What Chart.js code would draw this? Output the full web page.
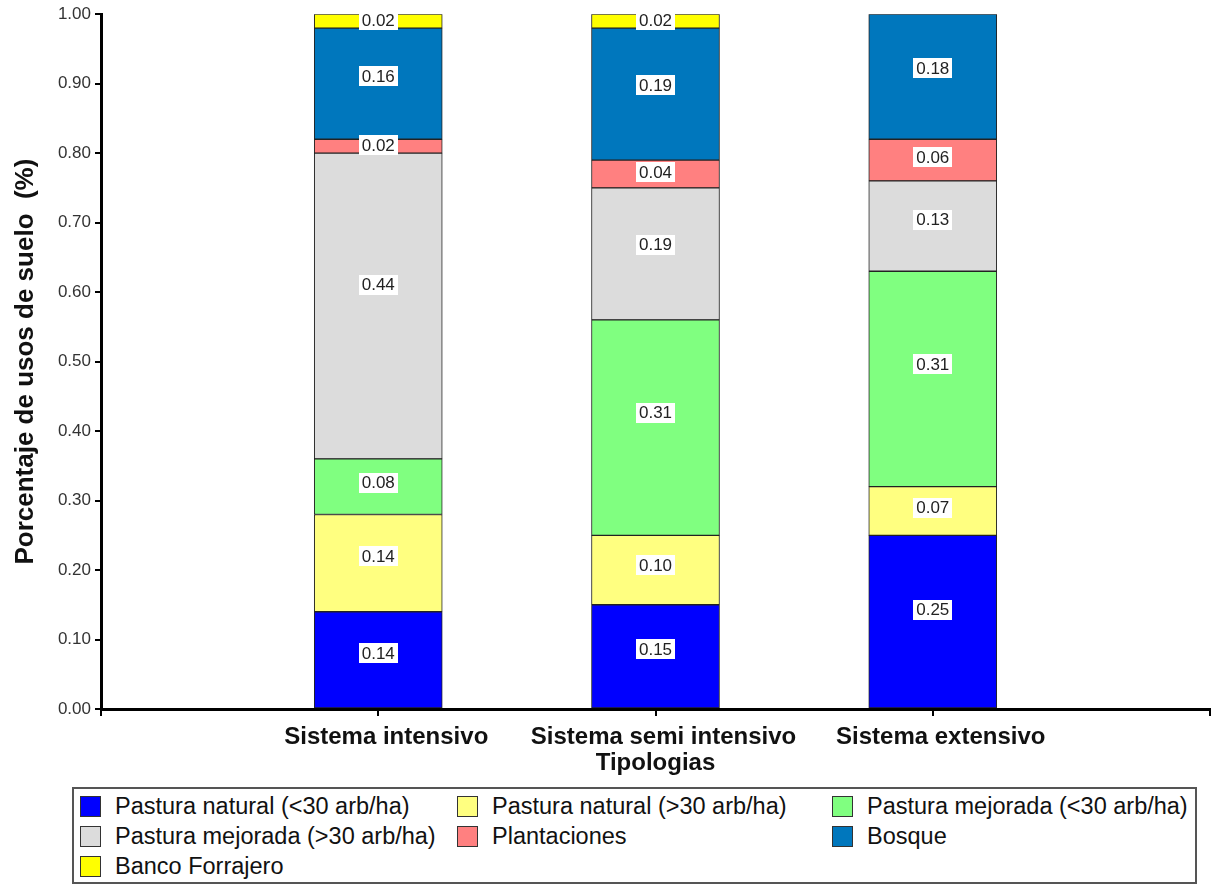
<!DOCTYPE html>
<html>
<head>
<meta charset="utf-8">
<script src="https://cdn.jsdelivr.net/npm/chart.js@4/dist/chart.umd.min.js"></script>
<style>
  body { margin:0; background:#fff; width:1217px; height:884px; overflow:hidden; position:relative;
         font-family: Arial, "Liberation Sans", sans-serif; }
  #wrap { position:absolute; left:0; top:0; width:1217px; height:780px; }
  #legend { position:absolute; left:72px; top:787px; width:1125px; height:97px;
            border:2px solid #555; box-sizing:border-box; }
  .item { position:absolute; display:flex; align-items:center; height:30px;
          font-size:23.5px; color:#111; white-space:nowrap; }
  .sw { width:21px; height:21px; border:1.5px solid #333; margin-right:14px; box-sizing:border-box; }
</style>
</head>
<body>
<div id="wrap"><canvas id="c" width="1217" height="780"></canvas></div>
<div id="legend"></div>
<script>
// Land-use categories per production system
const categories = ['Sistema intensivo', 'Sistema semi intensivo', 'Sistema extensivo'];

const seriesNames = [
  'Pastura natural (<30 arb/ha)',
  'Pastura natural (>30 arb/ha)',
  'Pastura mejorada (<30 arb/ha)',
  'Pastura mejorada (>30 arb/ha)',
  'Plantaciones',
  'Bosque',
  'Banco Forrajero'
];

// Share of land use (stacked bottom to top)
const pasturaNaturalMenos30  = [0.14, 0.15, 0.25];
const pasturaNaturalMas30    = [0.14, 0.10, 0.07];
const pasturaMejoradaMenos30 = [0.08, 0.31, 0.31];
const pasturaMejoradaMas30   = [0.44, 0.19, 0.13];
const plantaciones           = [0.02, 0.04, 0.06];
const bosque                 = [0.16, 0.19, 0.18];
const bancoForrajero         = [0.02, 0.02, 0.00];

const seriesColors = ['#0000FF', '#FFFF80', '#80FF80', '#DCDCDC', '#FF8080', '#0077BD', '#FFFF00'];
const seriesValues = [pasturaNaturalMenos30, pasturaNaturalMas30, pasturaMejoradaMenos30,
                      pasturaMejoradaMas30, plantaciones, bosque, bancoForrajero];

// Empty slots at both ends give the axis its margins on either side of the bars
const xLabels = ['', ...categories, ''];
const pad = arr => [null, ...arr, null];

const datasets = seriesValues.map((vals, i) => ({
  label: seriesNames[i],
  data: pad(vals),
  backgroundColor: seriesColors[i],
  borderColor: '#222',
  borderWidth: 1,
  borderSkipped: false,
  barThickness: 128
}));

// White boxed value labels inside each segment
const valueLabels = {
  id: 'valueLabels',
  afterDatasetsDraw(chart) {
    const ctx = chart.ctx;
    ctx.save();
    ctx.font = '17px Arial, "Liberation Sans", sans-serif';
    ctx.textAlign = 'center';
    ctx.textBaseline = 'middle';
    chart.data.datasets.forEach((ds, i) => {
      const meta = chart.getDatasetMeta(i);
      meta.data.forEach((el, j) => {
        const v = ds.data[j];
        if (!v) return;
        const txt = v.toFixed(2);
        const y = el.base + (el.y - el.base) * 0.57;
        const w = ctx.measureText(txt).width + 6;
        const h = 20;
        ctx.fillStyle = '#fff';
        ctx.fillRect(Math.round(el.x - w / 2), Math.round(y - h / 2), Math.round(w), h);
        ctx.fillStyle = '#222';
        ctx.fillText(txt, el.x, y + 1);
      });
    });
    ctx.restore();
  }
};

new Chart(document.getElementById('c'), {
  type: 'bar',
  data: { labels: xLabels, datasets },
  plugins: [valueLabels],
  options: {
    responsive: false,
    animation: false,
    devicePixelRatio: 1,
    layout: { padding: { top: 13, right: 6, left: 0, bottom: 0 } },
    plugins: { legend: { display: false }, tooltip: { enabled: false } },
    scales: {
      x: {
        stacked: true,
        offset: false,
        grid: { drawOnChartArea: false, offset: false, tickLength: 7, color: '#000', lineWidth: 2 },
        border: { color: '#000', width: 3 },
        ticks: { autoSkip: false, maxRotation: 0, padding: 7, labelOffset: 8, color: '#111',
                 font: { family: 'Arial, "Liberation Sans", sans-serif', size: 24, weight: 'bold' } },
        title: { display: true, text: 'Tipologias', color: '#111',
                 font: { family: 'Arial, "Liberation Sans", sans-serif', size: 24, weight: 'bold' },
                 padding: { top: 0, bottom: 2 } },
        afterFit(s) { s.height = 71; }
      },
      y: {
        stacked: true,
        min: 0, max: 1,
        ticks: { stepSize: 0.1, padding: 4, color: '#333',
                 callback: v => Number(v).toFixed(2),
                 font: { family: 'Arial, "Liberation Sans", sans-serif', size: 17 } },
        grid: { drawOnChartArea: false, tickLength: 6, color: '#000', lineWidth: 2 },
        border: { color: '#000', width: 3 },
        title: { display: true, text: 'Porcentaje de usos de suelo  (%)', color: '#111',
                 font: { family: 'Arial, "Liberation Sans", sans-serif', size: 26, weight: 'bold' },
                 padding: { top: 10, bottom: 0 } },
        afterFit(s) { s.width = 101; }
      }
    }
  }
});

// Legend: three columns, rows filled left to right
const legend = document.getElementById('legend');
const colLeft = [6, 383, 758];
seriesNames.forEach((name, i) => {
  const item = document.createElement('div');
  item.className = 'item';
  item.style.left = colLeft[i % 3] + 'px';
  item.style.top = (2 + Math.floor(i / 3) * 30) + 'px';
  const sw = document.createElement('span');
  sw.className = 'sw';
  sw.style.background = seriesColors[i];
  const tx = document.createElement('span');
  tx.textContent = name;
  item.appendChild(sw);
  item.appendChild(tx);
  legend.appendChild(item);
});
</script>
</body>
</html>
